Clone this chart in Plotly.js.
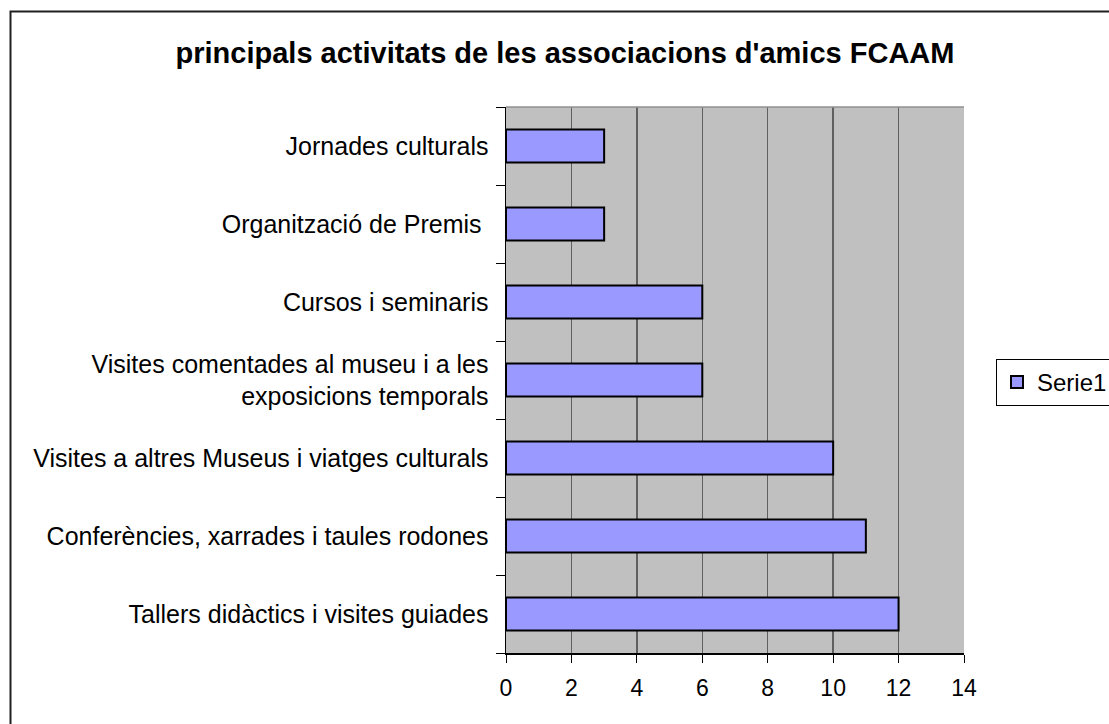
<!DOCTYPE html>
<html>
<head>
<meta charset="utf-8">
<script src="https://cdn.plot.ly/plotly-3.0.1.min.js"></script>
<style>html,body{margin:0;padding:0;background:#fff;}#chart{width:1109px;height:724px;}</style>
</head>
<body>
<div id="chart"></div>
<script>
// Categories listed bottom to top
const categories = [
  "Tallers didàctics i visites guiades",
  "Conferències, xarrades i taules rodones",
  "Visites a altres Museus i viatges culturals",
  "Visites comentades al museu i a les<br>exposicions temporals",
  "Cursos i seminaris",
  "Organització de Premis ",
  "Jornades culturals"
];
const serie1 = [12, 11, 10, 6, 6, 3, 3];
const seriesName = "Serie1";
const chartTitle = "principals activitats de les associacions d'amics FCAAM";

const W = 1109, H = 724;
const L = 506, R = 964, T = 107, B = 653;
const pw = R - L, ph = B - T;
const px = v => (v - L) / pw;
const py = v => (B - v) / ph;

const data = [{
  type: "bar",
  orientation: "h",
  y: categories,
  x: serie1,
  name: seriesName,
  marker: {color: "#9999FF", line: {color: "#000000", width: 2}},
  showlegend: true,
  hoverinfo: "x+y"
}];

const font = "'Liberation Sans', Arial, sans-serif";

const layout = {
  width: W, height: H,
  margin: {l: L, r: W - R, t: T, b: H - B, pad: 0, autoexpand: false},
  paper_bgcolor: "#ffffff",
  plot_bgcolor: "#C0C0C0",
  font: {family: font, size: 24, color: "#000000"},
  title: {
    text: "<b>" + chartTitle + "</b>",
    font: {family: font, size: 29, color: "#000000"},
    x: 565 / W, xref: "container", xanchor: "center",
    y: 1 - 53 / H, yref: "container", yanchor: "middle"
  },
  bargap: 0.58,
  xaxis: {
    range: [0, 14], dtick: 2, tick0: 0,
    showgrid: true, gridcolor: "#606060", gridwidth: 1.5,
    zeroline: false,
    showline: true, linecolor: "#000000", linewidth: 1.5,
    ticks: "outside", ticklen: 8, tickcolor: "#000000", tickwidth: 1,
    ticklabelstandoff: 6,
    tickfont: {family: font, size: 23, color: "#000000"},
    automargin: false,
    fixedrange: true
  },
  yaxis: {
    type: "category",
    categoryorder: "array", categoryarray: categories,
    showgrid: false, zeroline: false,
    showline: true, linecolor: "#000000", linewidth: 1.5,
    ticks: "outside", tickson: "boundaries", ticklen: 9, tickcolor: "#000000", tickwidth: 1,
    ticklabelstandoff: 11,
    tickfont: {family: font, size: 25, color: "#000000"},
    automargin: false,
    fixedrange: true
  },
  legend: {
    x: px(996), y: py(359), xanchor: "left", yanchor: "top",
    bgcolor: "#ffffff", bordercolor: "#000000", borderwidth: 1,
    font: {family: font, size: 24, color: "#000000"},
    itemwidth: 30
  },
  shapes: [
    // top edge of plot area (gray)
    {type: "line", xref: "paper", yref: "paper", x0: 0, x1: 1, y0: 1, y1: 1,
     line: {color: "#909090", width: 1.5}},
    // outer chart border
    {type: "rect", xref: "paper", yref: "paper",
     x0: px(10.5), x1: px(1140), y0: py(11.5), y1: py(760),
     line: {color: "#202020", width: 2}, fillcolor: "rgba(0,0,0,0)", layer: "above"}
  ]
};

Plotly.newPlot("chart", data, layout, {displayModeBar: false, staticPlot: true});
</script>
</body>
</html>
